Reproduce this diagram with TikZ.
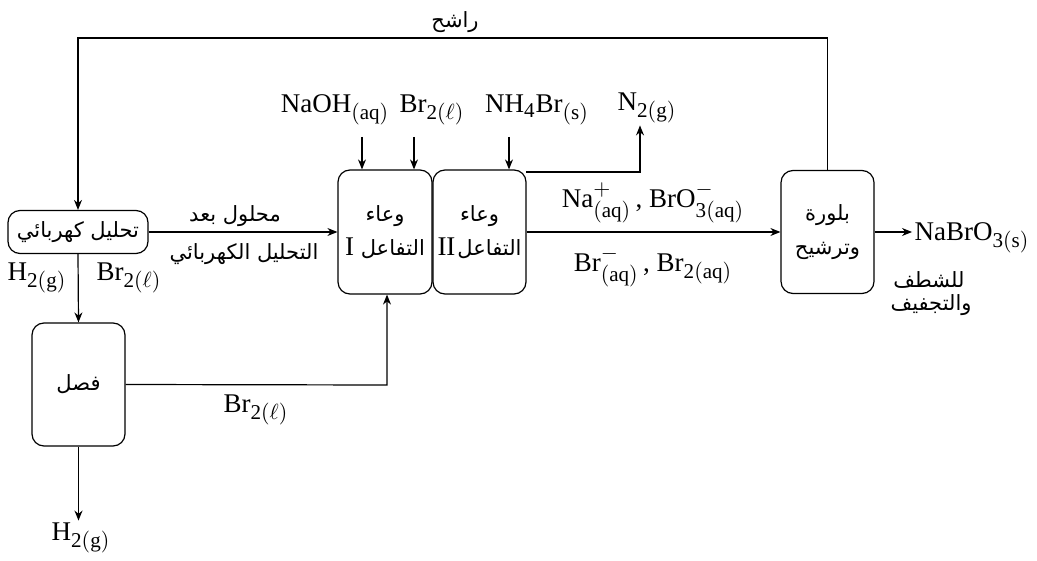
\documentclass[tikz,border=0pt]{standalone}
\usepackage{fontspec}
\setmainfont{Liberation Serif}
\newfontfamily\arabicfont[Script=Arabic]{DejaVu Sans}
\TeXXeTstate=1
\usetikzlibrary{arrows.meta}
\renewcommand\defaultscriptratio{.78}
\newcommand\artxt[1]{{\arabicfont\fontsize{10.5}{13}\selectfont\beginR #1\endR}}
\newcommand\latn[1]{{\normalfont\fontsize{13.5}{16}\selectfont\beginL #1\endL}}
\newcommand\chem[1]{$\mathrm{#1}$}
\begin{document}
\begin{tikzpicture}[x=0.5pt,y=-0.5pt,
  font=\fontsize{13.5}{16}\selectfont,
  line width=0.6pt,
  arr/.style={-{Stealth[length=5pt,width=4pt]}},
  proc/.style={draw, rounded corners=6pt, align=center, inner sep=1pt},
  lbl/.style={inner sep=1pt, align=center}]
\useasboundingbox (0,0) rectangle (1037,561);

% process units
\node[proc, minimum width=70pt, minimum height=21.5pt] (elec) at (78,232)
  {\artxt{تحليل كهربائي}};
\node[proc, minimum width=46.5pt, minimum height=61.5pt] (sep) at (78.5,384.5)
  {\artxt{فصل}};
\node[proc, minimum width=47pt, minimum height=62pt] (r1) at (385,232)
  {\artxt{وعاء}\\[1pt]\artxt{التفاعل \latn{I}}};
\node[proc, minimum width=46.5pt, minimum height=62pt] (r2) at (479.5,232)
  {\artxt{وعاء}\\[1pt]\artxt{التفاعل\hspace{1pt}\latn{II}}};
\node[proc, minimum width=46.5pt, minimum height=61.5pt] (cryst) at (827.5,232)
  {\artxt{بلورة}\\[1pt]\artxt{وترشيح}};

% feed and product labels
\node[lbl] (naoh) at (335,110) {\chem{NaOH_{(aq)}}};
\node[lbl] (brin) at (432,110) {\chem{Br_{2(\ell)}}};
\node[lbl] (nh4br) at (537,110) {\chem{NH_4Br_{(s)}}};
\node[lbl] (n2) at (647,108) {\chem{N_{2(g)}}};
\node[lbl, anchor=west] (prod) at (912,238) {\chem{NaBrO_{3(s)}}};
\node[lbl] (h2b) at (81,538) {\chem{H_{2(g)}}};

\coordinate (in1) at (362,137);
\coordinate (in2) at (414,137);
\coordinate (in3) at (509,137);
\coordinate (gasout) at (526,172);
\coordinate (gasturn) at (640,172);
\coordinate (top) at (0,38);
\coordinate (brturn) at (387,385);

% connectors
\draw[arr] (in1) -- (in1 |- r1.north);
\draw[arr] (in2) -- (in2 |- r1.north);
\draw[arr] (in3) -- (in3 |- r2.north);
\draw[arr] (gasout) -- (gasturn) -- (gasturn |- n2.south);
\draw[arr] (cryst.north) -- (cryst.north |- top) -| (elec.north);
\draw[arr] (elec.east) -- (r1.west);
\draw[arr] (elec.south) -- (sep.north);
\draw[arr] (sep.east) -- (brturn) -- (brturn |- r1.south);
\draw[arr] (sep.south) -- (sep.south |- h2b.north);
\draw[arr] (r2.east) -- (cryst.west);
\draw[arr] (cryst.east) -- (cryst.east -| prod.west);

% stream labels
\node[lbl] at (455,22) {\artxt{راشح}};
\node[lbl] at (235,216) {\artxt{محلول بعد}};
\node[lbl] at (244,254) {\artxt{التحليل الكهربائي}};
\node[lbl] at (37,278) {\chem{H_{2(g)}}};
\node[lbl] at (129,278) {\chem{Br_{2(\ell)}}};
\node[lbl] at (256,410) {\chem{Br_{2(\ell)}}};
\node[lbl] at (653,203) {\chem{Na^+_{(aq)}}\,,\ \chem{BrO^-_{3(aq)}}};
\node[lbl] at (653,267) {\chem{Br^-_{(aq)}}\,,\ \chem{Br_{2(aq)}}};
\node[lbl] at (929,280) {\artxt{للشطف}};
\node[lbl] at (931,305) {\artxt{والتجفيف}};
\end{tikzpicture}
\end{document}
